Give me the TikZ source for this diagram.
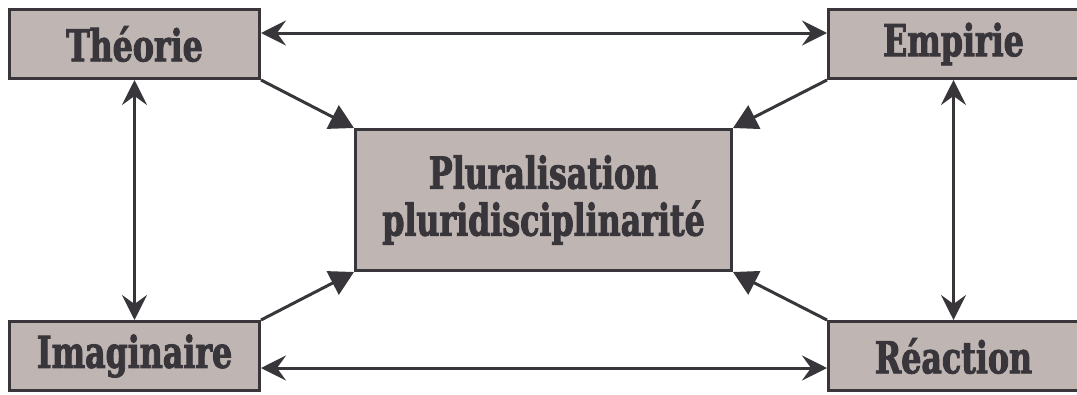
\documentclass[tikz,border=0pt]{standalone}
\usepackage{fontspec}
\setmainfont{DejaVu Serif Condensed}[FakeStretch=0.8, BoldFeatures={FakeBold=2}]
\usepackage{tikz}
\usetikzlibrary{arrows.meta}

\definecolor{boxfill}{HTML}{BFB5B2}
\definecolor{ink}{HTML}{38363B}

\begin{document}
\begin{tikzpicture}[x=1pt, y=-1pt,
    main/.style={rectangle, draw=ink, fill=boxfill, line width=3pt, text=ink,
        font=\fontsize{44}{47}\selectfont\bfseries, align=center,
        minimum width=250pt, minimum height=69pt, inner sep=0pt},
    both/.style={draw=ink, line width=3pt, {Stealth[length=25pt,width=25pt,inset=9pt]}-{Stealth[length=25pt,width=25pt,inset=9pt]}},
    into/.style={draw=ink, line width=3pt, -{Triangle[length=24pt,width=26pt]}}]
        \useasboundingbox (0,0) rectangle (1077,394);
        \node[main] (theorie) at (134.5, 44) {Théorie};
        \node[main] (empirie) at (953.5, 44) {Empirie};
        \node[main] (imaginaire) at (134.5, 356) {Imaginaire};
        \node[main] (reaction) at (953.5, 356) {Réaction};
        \node[main, minimum width=376pt, minimum height=141pt] (centre) at (543.5, 200) {Pluralisation\\pluridisciplinarité};
        % liens entre les coins
        \draw[both] ([yshift=11pt]theorie.east) -- ([yshift=11pt]empirie.west);
        \draw[both] ([yshift=-12pt]imaginaire.east) -- ([yshift=-12pt]reaction.west);
        \draw[both] (theorie.south) -- (imaginaire.north);
        \draw[both] (empirie.south) -- (reaction.north);
        % vers le centre
        \draw[into] (theorie.south east) -- (centre.north west);
        \draw[into] (empirie.south west) -- (centre.north east);
        \draw[into] (imaginaire.north east) -- (centre.south west);
        \draw[into] (reaction.north west) -- (centre.south east);
    \end{tikzpicture}
\end{document}
